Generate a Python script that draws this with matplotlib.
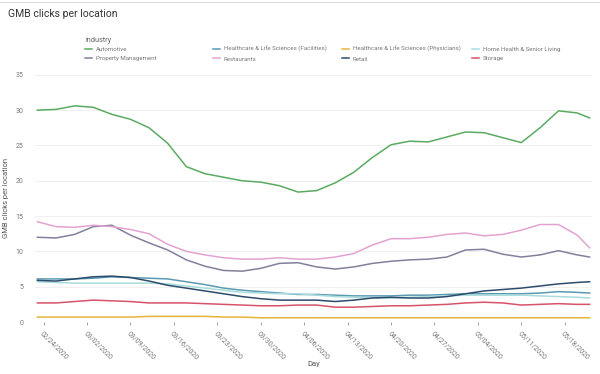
import numpy as np
import pandas as pd
import matplotlib
matplotlib.use("Agg")
from matplotlib import pyplot as plt
import matplotlib.dates as mdates
from matplotlib.lines import Line2D

plt.rcParams['font.family'] = ['Roboto', 'DejaVu Sans']

days = list(pd.date_range('2020-02-23', '2020-05-21', freq='3D')) + [pd.Timestamp('2020-05-22')]

automotive = [30.0, 30.1, 30.6, 30.4, 29.4, 28.7, 27.5, 25.3, 22.0, 21.0, 20.5,
              20.0, 19.8, 19.3, 18.4, 18.6, 19.7, 21.2, 23.3, 25.1, 25.6, 25.5,
              26.2, 26.9, 26.8, 26.1, 25.4, 27.5, 29.9, 29.6, 28.9]
facilities = [6.1, 6.1, 6.1, 6.2, 6.4, 6.3, 6.2, 6.1, 5.7, 5.3, 4.8, 4.5, 4.3,
              4.1, 3.9, 3.9, 3.8, 3.7, 3.7, 3.7, 3.8, 3.8, 3.9, 4.0, 4.0, 4.0,
              4.0, 4.1, 4.3, 4.2, 4.1]
physicians = [0.7, 0.7, 0.7, 0.7, 0.7, 0.7, 0.8, 0.8, 0.8, 0.8, 0.7, 0.7, 0.6,
              0.6, 0.6, 0.6, 0.6, 0.6, 0.6, 0.6, 0.6, 0.6, 0.6, 0.6, 0.6, 0.6,
              0.6, 0.6, 0.6, 0.6, 0.6]
home_health = [5.7, 5.6, 5.5, 5.5, 5.5, 5.5, 5.5, 5.4, 5.1, 4.8, 4.5, 4.2, 4.1,
               4.0, 4.0, 3.8, 3.6, 3.5, 3.4, 3.4, 3.5, 3.6, 3.7, 3.8, 3.8, 3.8,
               3.8, 3.7, 3.6, 3.5, 3.4]
property_mgmt = [12.0, 11.9, 12.4, 13.5, 13.7, 12.3, 11.2, 10.2, 8.8, 7.9, 7.3,
                 7.2, 7.6, 8.3, 8.4, 7.8, 7.5, 7.8, 8.3, 8.6, 8.8, 8.9, 9.2,
                 10.2, 10.3, 9.6, 9.2, 9.5, 10.1, 9.5, 9.2]
restaurants = [14.2, 13.5, 13.4, 13.7, 13.5, 13.1, 12.5, 11.0, 10.0, 9.5, 9.1,
               8.9, 8.9, 9.1, 8.9, 8.9, 9.2, 9.7, 10.9, 11.8, 11.8, 12.0, 12.4,
               12.6, 12.2, 12.4, 13.0, 13.8, 13.8, 12.3, 10.5]
retail = [5.9, 5.8, 6.1, 6.4, 6.5, 6.3, 5.8, 5.2, 4.8, 4.4, 4.0, 3.6, 3.3, 3.1,
          3.1, 3.1, 2.9, 3.1, 3.4, 3.5, 3.4, 3.4, 3.6, 4.0, 4.4, 4.6, 4.8, 5.1,
          5.4, 5.6, 5.7]
storage = [2.7, 2.7, 2.9, 3.1, 3.0, 2.9, 2.7, 2.7, 2.7, 2.6, 2.5, 2.4, 2.3, 2.3,
           2.4, 2.4, 2.1, 2.1, 2.2, 2.3, 2.3, 2.4, 2.5, 2.7, 2.8, 2.7, 2.4, 2.5,
           2.6, 2.5, 2.5]

names = ['Automotive', 'Healthcare & Life Sciences (Facilities)',
         'Healthcare & Life Sciences (Physicians)', 'Home Health & Senior Living',
         'Property Management', 'Restaurants', 'Retail', 'Storage']
series = [automotive, facilities, physicians, home_health,
          property_mgmt, restaurants, retail, storage]
colors = ['#5aab61', '#5b9ab3', '#e6b43a', '#a8dcdc',
          '#82809c', '#e3a3d1', '#2d4b6b', '#d6536a']

ticks = pd.date_range('2020-02-24', '2020-05-18', freq='7D')

fig = plt.figure(figsize=(6, 3.74), dpi=100)
ax = fig.add_axes([0.058, 0.139, 0.929, 0.661])

lines = []
for name, vals, c in zip(names, series, colors):
    ln, = ax.plot(days, vals, color=c, lw=1.1, label=name)
    lines.append(ln)

ax.set_ylim(0, 35)
ax.set_yticks(np.arange(0, 36, 5))
ax.set_xlim(pd.Timestamp('2020-02-22 14:00'), pd.Timestamp('2020-05-22 10:00'))
ax.set_xticks(ticks)
ax.xaxis.set_major_formatter(mdates.DateFormatter('%m/%d/%Y'))
for lbl in ax.get_xticklabels():
    lbl.set_rotation(-45)
    lbl.set_ha('left')
    lbl.set_va('top')
    lbl.set_rotation_mode('anchor')
ax.tick_params(axis='x', labelsize=5, colors='#777777', length=2, width=0.5)
ax.tick_params(axis='y', labelsize=5, colors='#777777', length=0, pad=8)
ax.grid(axis='y', color='#eeeeee', lw=0.6)
ax.set_axisbelow(True)
for s in ax.spines.values():
    s.set_visible(False)

ax.set_ylabel('GMB clicks per location', fontsize=5.5, color='#555555', labelpad=5)
ax.set_xlabel('Day', fontsize=5.5, color='#555555', labelpad=0)

fig.text(0.013, 0.963, 'GMB clicks per location', fontsize=7.5, color='#333333',
         va='center', ha='left')
fig.add_artist(Line2D([0, 1], [0.995, 0.995], color='#dddddd', lw=0.8))

fig.text(0.142, 0.893, 'industry', fontsize=5.3, color='#666666', va='center')
col_x = [0.141, 0.355, 0.570, 0.786]
for i, x in enumerate(col_x):
    fig.legend(handles=[lines[i], lines[i + 4]], loc='upper left',
               bbox_to_anchor=(x, 0.876), frameon=False, fontsize=4.4,
               handlelength=1.2, handletextpad=0.6, labelspacing=0.65,
               borderaxespad=0, borderpad=0, labelcolor='#777777')

fig.savefig('out.png', dpi=100)
